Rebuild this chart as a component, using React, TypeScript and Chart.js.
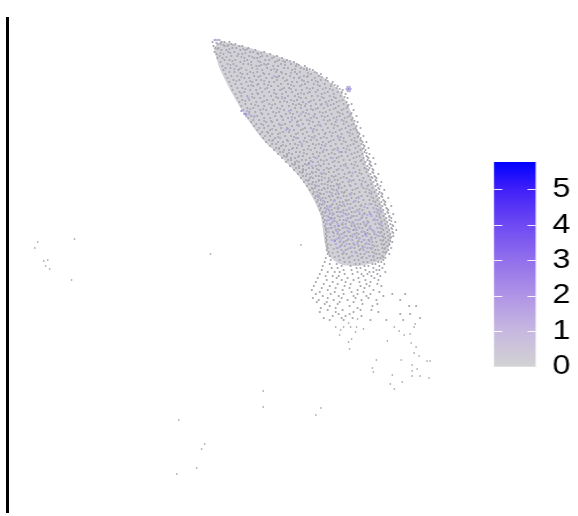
import React, { useEffect, useRef } from "react";
import { Chart, registerables } from "chart.js";

Chart.register(...registerables);

// Embedding coordinates. Each row: [umap2, umap1, umap1, ...]
const baselineRows: number[][] = [
  [46.0, 20.6, 21.1],
  [45.8, 20.4, 21.3, 21.6, 22.1],
  [45.6, 20.9, 21.2, 22.3, 22.7],
  [45.4, 20.5, 21.6, 21.9, 23.1, 23.4],
  [45.2, 20.7, 21.0, 22.4, 22.8, 24.0],
  [45.0, 21.3, 21.8, 23.2, 23.7, 24.7],
  [44.8, 20.6, 22.0, 22.6, 24.2, 24.5, 25.6],
  [44.6, 20.8, 21.5, 23.0, 23.4, 25.0, 26.2],
  [44.4, 21.1, 22.3, 22.9, 24.1, 25.4, 25.9, 26.9],
  [44.2, 20.9, 21.4, 23.6, 24.6, 24.9, 26.4, 27.4],
  [44.0, 21.6, 22.1, 22.7, 23.9, 25.7, 26.1, 27.1, 27.9],
  [43.8, 21.2, 23.2, 24.3, 25.2, 26.7, 27.7, 28.6],
  [43.6, 21.9, 22.5, 23.5, 24.0, 25.6, 26.0, 27.3, 28.3, 28.9],
  [43.4, 21.4, 22.8, 24.8, 25.1, 26.5, 27.0, 28.8, 29.7],
  [43.2, 21.7, 22.2, 23.3, 24.4, 25.9, 27.6, 28.0, 29.3, 29.9],
  [43.0, 21.5, 23.0, 23.8, 25.4, 26.3, 26.9, 28.4, 29.9, 30.5],
  [42.8, 22.1, 22.6, 24.2, 24.9, 26.8, 27.3, 28.7, 29.2, 30.7],
  [42.6, 21.7, 23.4, 23.9, 25.6, 26.1, 27.8, 28.9, 30.3, 31.3],
  [42.4, 22.3, 22.9, 24.6, 25.2, 27.1, 28.2, 29.6, 30.0, 31.1],
  [42.2, 21.9, 23.6, 24.1, 25.8, 26.4, 27.5, 28.6, 29.1, 30.7, 31.9],
  [42.0, 22.5, 23.1, 24.8, 25.3, 26.9, 27.9, 29.4, 30.4, 31.3, 31.8],
  [41.8, 22.1, 23.8, 24.4, 26.1, 26.6, 28.4, 28.9, 30.0, 31.0, 32.5],
  [41.6, 22.7, 23.3, 25.0, 25.6, 27.3, 28.0, 29.7, 30.6, 31.7, 32.4],
  [41.4, 22.3, 24.0, 24.5, 26.3, 27.0, 28.6, 29.2, 31.2, 32.3, 33.0],
  [41.2, 22.9, 23.4, 25.2, 25.9, 27.6, 28.1, 29.9, 30.5, 31.8, 32.9],
  [41.0, 22.4, 24.2, 24.8, 26.6, 27.2, 28.8, 29.4, 31.0, 32.5, 33.5],
  [40.8, 23.1, 23.6, 25.4, 26.1, 27.8, 28.4, 30.2, 30.8, 32.0, 33.0, 33.4],
  [40.6, 22.7, 24.4, 25.0, 26.8, 27.4, 29.0, 29.6, 31.4, 32.6, 33.8],
  [40.4, 23.3, 23.9, 25.6, 26.3, 28.0, 28.7, 30.4, 31.0, 32.2, 33.3],
  [40.2, 22.9, 24.6, 25.2, 27.0, 27.7, 29.3, 29.8, 31.6, 32.8, 34.0],
  [40.0, 23.4, 24.1, 25.9, 26.5, 28.3, 28.9, 30.6, 31.2, 32.4, 33.5],
  [39.8, 23.1, 24.8, 25.4, 27.2, 27.9, 29.5, 30.1, 31.8, 32.9, 33.9],
  [39.6, 23.7, 24.3, 26.1, 26.7, 28.5, 29.1, 30.8, 31.4, 32.6, 33.6, 34.4],
  [39.4, 23.3, 25.0, 25.6, 27.4, 28.1, 29.7, 30.3, 32.0, 33.1, 34.0],
  [39.2, 23.9, 24.5, 26.3, 26.9, 28.7, 29.3, 31.0, 31.6, 32.8, 33.9],
  [39.0, 23.5, 25.2, 25.8, 27.6, 28.3, 29.9, 30.5, 32.2, 33.4, 34.6],
  [38.8, 24.1, 24.7, 26.5, 27.1, 28.9, 29.5, 31.2, 31.8, 33.0, 34.0],
  [38.6, 23.8, 25.4, 26.0, 27.8, 28.5, 30.1, 30.7, 32.4, 33.5, 34.3],
  [38.4, 24.3, 24.9, 26.7, 27.3, 29.1, 29.7, 31.4, 32.0, 33.2, 34.2, 34.9],
  [38.2, 24.0, 25.6, 26.2, 28.0, 28.7, 30.3, 30.9, 32.6, 33.7, 34.5],
  [38.0, 24.5, 25.1, 26.9, 27.5, 29.3, 29.9, 31.6, 32.2, 33.4, 34.4],
  [37.8, 24.3, 25.8, 26.4, 28.2, 28.9, 30.5, 31.1, 32.8, 33.9, 35.0],
  [37.6, 24.8, 25.3, 27.1, 27.7, 29.5, 30.1, 31.8, 32.4, 33.6, 34.6],
  [37.4, 24.6, 26.0, 26.6, 28.4, 29.1, 30.7, 31.3, 33.0, 34.1, 34.9],
  [37.2, 25.1, 25.6, 27.3, 27.9, 29.7, 30.3, 32.0, 32.6, 33.8, 34.8, 35.3],
  [37.0, 24.9, 26.2, 26.8, 28.6, 29.3, 30.9, 31.5, 33.2, 34.3, 34.9],
  [36.8, 25.4, 25.9, 27.5, 28.1, 29.9, 30.5, 32.2, 32.8, 34.0, 35.0],
  [36.6, 25.2, 26.4, 27.0, 28.8, 29.5, 31.1, 31.7, 33.4, 34.5, 35.2],
  [36.4, 25.7, 26.2, 27.7, 28.3, 30.1, 30.7, 32.4, 33.0, 34.2, 35.1, 35.6],
  [36.2, 25.5, 26.7, 27.2, 29.0, 29.7, 31.3, 31.9, 33.6, 34.7, 35.3],
  [36.0, 26.1, 26.5, 27.9, 28.5, 30.3, 30.9, 32.6, 33.2, 34.4, 35.3],
  [35.8, 25.8, 27.0, 27.5, 29.2, 29.9, 31.5, 32.1, 33.8, 34.9, 35.5, 35.9],
  [35.6, 26.4, 26.8, 28.2, 28.7, 30.5, 31.1, 32.8, 33.4, 34.6, 35.4],
  [35.4, 26.2, 27.3, 27.8, 29.4, 30.1, 31.7, 32.3, 34.0, 35.1, 35.7],
  [35.2, 26.8, 27.1, 28.5, 28.9, 30.7, 31.3, 33.0, 33.6, 34.8, 35.6, 36.1],
  [35.0, 26.6, 27.6, 28.1, 29.6, 30.3, 31.9, 32.5, 34.2, 35.3, 35.8],
  [34.8, 27.2, 27.5, 28.8, 29.2, 30.9, 31.5, 33.2, 33.8, 35.0, 35.7],
  [34.6, 27.0, 27.9, 28.4, 29.9, 30.5, 32.1, 32.7, 34.4, 35.5, 36.2],
  [34.4, 27.6, 27.9, 29.1, 29.5, 31.1, 31.7, 33.4, 34.0, 35.2, 35.9],
  [34.2, 27.4, 28.3, 28.7, 30.2, 30.8, 32.3, 32.9, 34.6, 35.6, 36.1, 36.6],
  [34.0, 28.0, 28.3, 29.4, 29.8, 31.3, 31.9, 33.6, 34.2, 35.4, 36.0],
  [33.8, 27.8, 28.7, 29.1, 30.5, 31.0, 32.5, 33.1, 34.8, 35.8, 36.3],
  [33.6, 28.4, 28.7, 29.7, 30.1, 31.6, 32.1, 33.8, 34.4, 35.6, 36.2, 36.8],
  [33.4, 28.2, 29.1, 29.5, 30.8, 31.3, 32.7, 33.3, 35.0, 36.0, 36.4],
  [33.2, 28.8, 29.1, 30.1, 30.5, 31.9, 32.3, 34.0, 34.6, 35.7, 36.2],
  [33.0, 28.6, 29.5, 29.8, 31.1, 31.6, 32.9, 33.5, 35.2, 36.1, 36.6],
  [32.8, 29.2, 29.5, 30.4, 30.8, 32.1, 32.6, 34.2, 34.8, 35.9, 36.5],
  [32.6, 29.0, 29.9, 30.2, 31.4, 31.8, 33.1, 33.7, 35.4, 36.3, 37.1],
  [32.4, 29.5, 29.8, 30.8, 31.1, 32.4, 32.8, 34.4, 35.0, 36.1, 36.7],
  [32.2, 29.3, 30.2, 30.5, 31.7, 32.1, 33.3, 33.9, 35.6, 36.5, 36.9],
  [32.0, 29.8, 30.1, 31.1, 31.4, 32.7, 33.0, 34.6, 35.2, 36.3, 36.8],
  [31.8, 29.6, 30.5, 30.8, 32.0, 32.4, 33.5, 34.1, 35.8, 36.6, 37.4],
  [31.6, 30.1, 30.4, 31.4, 31.7, 32.9, 33.2, 34.8, 35.4, 36.4, 37.0],
  [31.4, 29.9, 30.8, 31.1, 32.3, 32.6, 33.7, 34.3, 36.0, 36.8, 37.3],
  [31.2, 30.4, 30.7, 31.6, 32.0, 33.1, 33.4, 35.0, 35.6, 36.5, 37.1],
  [31.0, 30.2, 31.1, 31.4, 32.6, 32.9, 33.9, 34.5, 36.2, 36.9, 37.7],
  [30.8, 30.6, 30.9, 31.9, 32.2, 33.4, 33.7, 35.2, 35.8, 36.7, 37.2],
  [30.6, 30.5, 31.3, 31.6, 32.8, 33.1, 34.2, 34.7, 36.4, 37.1, 37.5],
  [30.4, 30.8, 31.1, 32.1, 32.5, 33.6, 33.9, 35.4, 36.0, 36.9, 37.4],
  [30.2, 30.7, 31.5, 31.8, 33.0, 33.3, 34.4, 34.9, 36.6, 37.2, 38.1],
  [30.0, 31.0, 31.3, 32.3, 32.7, 33.8, 34.1, 35.6, 36.2, 37.0, 37.6],
  [29.8, 30.9, 31.7, 32.0, 33.2, 33.5, 34.6, 35.1, 36.8, 37.4, 37.8],
  [29.6, 31.2, 31.5, 32.5, 32.9, 34.0, 34.3, 35.8, 36.4, 37.2, 37.7],
  [29.4, 31.1, 31.9, 32.2, 33.4, 33.7, 34.8, 35.3, 37.0, 37.5, 38.4],
  [29.2, 31.3, 31.7, 32.7, 33.1, 34.2, 34.5, 36.0, 36.6, 37.3, 37.9],
  [29.0, 31.2, 32.1, 32.4, 33.6, 33.9, 35.0, 35.5, 37.1, 37.6, 38.1],
  [28.8, 31.5, 31.8, 32.9, 33.3, 34.4, 34.7, 36.2, 36.7, 37.4, 38.0],
  [28.6, 31.4, 32.2, 32.6, 33.8, 34.1, 35.2, 35.7, 37.2, 37.8, 38.6],
  [28.4, 31.6, 32.0, 33.0, 33.5, 34.6, 34.9, 36.4, 36.9, 37.6, 38.2],
  [28.2, 31.5, 32.4, 32.7, 34.0, 34.3, 35.4, 35.9, 37.3, 37.9, 38.4],
  [28.0, 31.7, 32.1, 33.2, 33.6, 34.8, 35.1, 36.6, 37.0, 37.7, 38.2],
  [27.8, 31.6, 32.5, 32.9, 34.2, 34.5, 35.6, 36.1, 37.4, 38.0, 38.8],
  [27.6, 31.8, 32.2, 33.4, 33.8, 35.0, 35.3, 36.8, 37.2, 37.8, 38.3],
  [27.4, 31.7, 32.7, 33.1, 34.4, 34.7, 35.8, 36.3, 37.5, 38.1, 38.6],
  [27.2, 31.8, 32.4, 33.5, 34.0, 35.2, 35.5, 37.0, 37.3, 37.9, 38.4],
  [27.0, 31.8, 32.8, 33.2, 34.6, 34.9, 36.0, 36.5, 37.6, 38.2, 38.9],
  [26.8, 31.9, 32.5, 33.7, 34.2, 35.4, 35.7, 37.1, 37.4, 38.0, 38.5],
  [26.6, 31.8, 33.0, 33.4, 34.7, 35.1, 36.2, 36.7, 37.7, 38.3],
  [26.4, 31.9, 32.6, 33.9, 34.3, 35.5, 35.9, 37.2, 37.5, 38.1, 38.6],
  [26.2, 31.8, 33.1, 33.5, 34.9, 35.2, 36.4, 36.8, 37.8, 38.3],
  [26.0, 31.9, 32.7, 34.0, 34.5, 35.7, 36.1, 37.3, 37.6, 38.1],
  [25.8, 31.8, 33.2, 33.6, 35.0, 35.4, 36.5, 36.9, 37.9, 38.5],
  [25.6, 32.0, 32.8, 34.2, 34.6, 35.8, 36.2, 37.4, 37.7, 38.2],
  [25.4, 31.9, 33.3, 33.7, 35.1, 35.5, 36.7, 37.0, 38.0],
  [25.2, 32.0, 32.9, 34.3, 34.7, 36.0, 36.3, 37.5, 37.8, 38.4],
  [25.0, 31.9, 33.4, 33.8, 35.2, 35.6, 36.8, 37.1, 38.1],
  [24.8, 32.1, 33.0, 34.4, 34.8, 36.1, 36.5, 37.6, 37.9],
  [24.6, 32.0, 33.5, 33.9, 35.3, 35.7, 36.9, 37.2, 38.2],
  [24.4, 32.2, 33.1, 34.5, 35.0, 36.2, 36.6, 37.5],
  [24.2, 31.8, 33.6, 34.1, 35.4, 35.9, 37.0, 37.3, 37.8],
  [24.0, 32.3, 33.2, 34.7, 35.1, 36.4, 36.7, 37.6],
  [23.8, 31.7, 33.7, 34.2, 35.6, 36.0, 37.1, 37.4],
  [23.6, 32.2, 32.9, 34.8, 35.2, 36.5, 36.8, 37.7],
  [23.4, 31.5, 33.4, 34.3, 35.7, 36.1, 37.2],
  [23.2, 32.4, 33.0, 34.9, 35.3, 36.6, 37.5],
  [23.0, 31.4, 33.6, 34.4, 35.8, 36.9, 37.2],
  [22.8, 32.0, 32.7, 33.2, 35.0, 36.2, 36.6, 37.8],
  [22.6, 31.2, 33.7, 34.5, 35.4, 36.0, 37.0],
  [22.4, 31.8, 32.5, 33.1, 35.6, 36.4, 37.3],
  [22.2, 31.0, 32.9, 34.0, 35.1, 36.7],
  [22.0, 31.9, 33.4, 34.6, 35.8, 37.1],
  [21.8, 30.8, 32.5, 33.8, 35.2, 36.3],
  [21.6, 31.6, 33.0, 34.3, 35.9, 37.0],
  [21.4, 30.6, 32.2, 33.7, 35.3, 36.2, 37.4],
  [21.2, 31.4, 32.8, 34.2, 35.7],
  [21.0, 30.4, 32.0, 33.5, 35.0, 36.6],
  [20.8, 31.2, 32.7, 34.4, 35.6, 37.2],
  [20.6, 30.8, 32.3, 33.6, 35.0, 36.3, 38.5, 39.8],
  [20.4, 31.5, 33.1, 34.6, 35.9, 37.6],
  [20.2, 30.5, 32.0, 33.4, 34.8, 36.1],
  [20.0, 31.1, 32.6, 34.0, 35.4, 36.9, 39.3],
  [19.8, 30.9, 31.9, 33.2, 34.6],
  [19.6, 31.7, 33.0, 35.5, 37.0],
  [19.4, 32.2, 34.2, 36.5, 40.2, 40.9],
  [19.2, 31.3, 32.8, 35.0],
  [19.0, 32.0, 33.5, 35.3, 36.4],
  [18.8, 31.2, 32.8, 34.6, 37.1],
  [18.6, 33.1, 34.2, 39.3, 40.3],
  [18.4, 32.5, 33.8, 35.4],
  [18.2, 31.6, 33.4, 34.5, 41.3],
  [18.0, 32.2, 33.6, 36.3, 37.9, 39.6],
];

// A second reading of the same cloud, on the rows in between.
const baselineRowsB: number[][] = [
  [45.5, 21.5, 22.0, 22.5],
  [45.1, 20.9, 22.1, 23.5, 23.9],
  [44.7, 21.2, 22.2, 23.7, 24.9, 25.3],
  [44.3, 21.8, 23.3, 24.4, 25.2, 26.6],
  [43.9, 22.4, 23.6, 25.0, 26.9, 27.5, 28.2],
  [43.5, 22.2, 24.3, 25.3, 25.8, 27.7, 29.1],
  [43.1, 22.6, 23.1, 24.9, 26.6, 28.7, 29.6, 30.2],
  [42.7, 23.2, 24.5, 25.5, 27.4, 28.3, 30.0, 30.9],
  [42.3, 23.3, 25.0, 26.8, 27.0, 29.2, 29.9, 31.4],
  [41.9, 22.8, 24.2, 25.6, 27.7, 29.6, 30.8, 32.0],
  [41.5, 24.3, 24.9, 26.0, 28.3, 29.4, 31.0, 32.7],
  [41.1, 23.7, 25.7, 27.4, 28.3, 30.2, 31.5, 32.2, 33.2],
  [40.7, 23.3, 24.9, 26.6, 29.3, 30.0, 31.7, 33.4],
  [40.3, 24.4, 26.8, 27.4, 29.1, 31.4, 32.6, 33.7],
  [39.9, 23.7, 25.6, 27.6, 28.6, 30.3, 32.1, 33.2],
  [39.5, 24.7, 26.4, 28.8, 29.3, 31.3, 32.3, 34.1],
  [39.1, 24.2, 25.5, 27.2, 30.3, 30.8, 32.6, 33.6],
  [38.7, 25.3, 26.8, 28.2, 29.8, 31.5, 33.2, 34.4],
  [38.3, 24.6, 27.4, 28.4, 30.6, 31.7, 32.9, 34.0],
  [37.9, 25.6, 26.3, 29.0, 30.2, 32.0, 33.6, 34.7],
  [37.5, 25.5, 27.4, 28.9, 31.0, 32.7, 34.4],
  [37.1, 26.4, 28.0, 29.5, 30.6, 33.4, 34.6],
  [36.7, 26.0, 27.2, 29.0, 31.8, 32.5, 34.2, 35.1],
  [36.3, 27.0, 28.6, 30.4, 31.6, 33.3, 35.0],
  [35.9, 26.4, 28.0, 29.6, 32.3, 33.6, 34.7, 35.4],
  [35.5, 27.5, 29.0, 30.8, 31.4, 34.3, 35.6],
  [35.1, 27.1, 28.4, 30.0, 32.7, 33.9, 35.5],
  [34.7, 28.1, 29.6, 31.2, 32.4, 34.7, 35.9],
  [34.3, 27.8, 29.0, 30.6, 33.1, 34.9, 36.0],
  [33.9, 28.9, 30.3, 31.6, 32.7, 35.3, 36.2],
  [33.5, 28.6, 29.9, 31.1, 33.6, 34.7, 36.3],
  [33.1, 29.5, 30.9, 32.1, 33.1, 35.9, 36.5],
  [32.7, 29.4, 30.5, 31.6, 34.1, 35.2, 36.6],
  [32.3, 30.3, 31.4, 32.6, 33.6, 36.4, 36.8],
  [31.9, 30.0, 31.1, 32.1, 34.4, 35.5, 36.9],
  [31.5, 30.7, 32.0, 33.0, 34.2, 36.1, 37.0],
  [31.1, 30.5, 31.7, 32.4, 34.8, 35.9, 37.2],
  [30.7, 31.2, 32.4, 33.6, 34.4, 36.2, 37.4],
  [30.3, 31.0, 32.2, 33.0, 35.1, 36.4, 37.5],
  [29.9, 31.6, 32.7, 33.9, 34.8, 36.6, 37.7],
  [29.5, 31.4, 32.4, 33.2, 35.4, 36.8, 37.8],
  [29.1, 31.9, 33.0, 34.2, 35.2, 36.9, 38.0],
  [28.7, 31.7, 32.5, 33.6, 35.7, 37.0, 38.1],
  [28.3, 32.1, 33.2, 34.4, 35.5, 37.2, 38.2],
  [27.9, 31.9, 32.7, 33.9, 36.0, 37.4, 38.4],
  [27.5, 32.3, 33.5, 34.7, 35.9, 37.3, 38.5],
  [27.1, 32.0, 33.0, 34.2, 36.3, 37.5, 38.5],
  [26.7, 32.6, 33.6, 34.9, 36.0, 37.3, 38.6],
  [26.3, 32.2, 33.2, 34.5, 36.4, 37.6, 38.4],
  [25.9, 32.7, 33.8, 35.1, 36.2, 37.5, 38.3],
  [25.5, 32.3, 33.4, 34.7, 36.5, 37.6, 38.2],
  [25.1, 32.6, 34.0, 35.3, 36.4, 37.7],
  [24.7, 32.5, 33.6, 34.9, 36.7, 37.8],
  [24.3, 32.7, 34.2, 35.5, 36.6, 37.6],
];

const isolatedX = [2.8, 6.5, 2.5, 3.8, 3.4, 3.6, 4.0, 6.2, 20.2, 29.3, 25.5, 25.5, 31.3, 30.8, 17.0, 19.6, 19.3, 18.8, 16.8, 40.8, 40.7, 38.7, 39.2, 39.7, 40.3, 40.4, 40.9, 40.7, 41.2, 38.0, 42.0, 42.3, 36.9, 39.4, 40.5, 36.5, 36.6, 41.0, 40.5, 38.5, 40.5, 41.3, 42.2, 39.5, 38.3, 38.7, 34.4, 34.1, 34.2, 33.2, 33.3, 33.6, 32.8, 34.3, 34.9, 35.6, 34.8, 34.1, 35.0];
const isolatedY = [25.8, 26.1, 25.2, 24.0, 23.9, 23.4, 23.1, 22.0, 24.6, 25.5, 10.9, 9.3, 9.2, 8.5, 8.0, 5.6, 5.1, 3.2, 2.6, 17.6, 17.3, 17.3, 16.9, 16.5, 16.6, 15.7, 15.3, 14.7, 14.4, 15.9, 13.9, 13.9, 14.0, 14.0, 13.5, 13.2, 12.8, 13.1, 12.9, 12.5, 12.4, 12.4, 12.2, 11.8, 11.6, 11.1, 16.1, 15.8, 15.1, 16.5, 17.0, 17.3, 17.3, 17.3, 17.3, 17.1, 16.8, 17.7, 18.1];

const lowExprRows: number[][] = [
  [46.0, 20.7, 20.9],
  [45.7, 20.8],
  [42.4, 26.6],
  [41.3, 34.0, 34.2],
  [41.1, 33.9, 34.1, 34.3],
  [40.9, 34.0, 34.2],
  [40.2, 24.0, 27.4],
  [39.6, 29.8, 31.9],
  [38.9, 23.9, 28.1],
  [38.6, 23.6, 24.1, 29.3],
  [38.4, 23.8, 24.6, 30.6],
  [38.0, 28.4, 30.0, 32.9],
  [37.5, 27.2, 29.0, 31.2],
  [37.0, 27.8, 28.2, 30.5],
  [36.2, 28.8, 30.6, 33.1],
  [35.6, 29.4, 31.8],
  [35.0, 31.6, 33.0],
  [34.2, 30.9, 32.5],
  [33.4, 30.4, 33.8],
  [32.7, 31.3, 34.5],
  [32.0, 32.2, 34.2],
  [31.4, 30.9, 33.1, 35.4],
  [30.8, 31.9, 33.0, 36.4],
  [30.5, 31.0, 32.4, 34.3],
  [30.2, 31.2, 33.3, 35.1],
  [29.9, 31.5, 32.6, 34.7],
  [29.6, 31.6, 33.6, 36.2],
  [29.3, 32.3, 33.0, 35.7],
  [29.2, 32.0, 34.2, 36.6],
  [28.9, 31.8, 33.5, 34.9, 37.3],
  [28.8, 32.2, 33.1, 35.2, 37.0],
  [28.5, 32.5, 33.9, 35.5, 36.0],
  [28.4, 31.9, 33.4, 34.4, 36.4, 37.2],
  [28.1, 32.3, 34.0, 35.3, 36.7],
  [28.0, 32.0, 32.6, 33.8, 35.1, 36.8],
  [27.7, 32.4, 33.5, 34.6, 36.0, 37.1],
  [27.6, 31.9, 33.0, 34.4, 35.7, 37.4],
  [27.3, 32.7, 33.8, 35.1, 36.3],
  [27.2, 32.2, 33.6, 34.8, 36.2, 37.0],
  [26.9, 32.9, 34.0, 35.5, 36.6],
  [26.8, 32.1, 33.0, 34.1, 35.4, 36.7],
  [26.5, 33.2, 34.5, 35.8, 36.9],
  [26.4, 32.6, 33.7, 34.9, 35.9, 37.1],
  [26.1, 32.9, 34.1, 35.2, 36.4],
  [26.0, 32.4, 33.3, 34.4, 35.6, 36.3],
  [25.7, 33.5, 34.6, 35.9],
  [25.6, 32.8, 33.9, 35.0, 36.1],
  [25.3, 33.2, 34.4, 35.7],
  [25.2, 33.0, 34.2, 35.5, 36.5],
  [24.8, 33.6, 34.8, 35.9],
  [24.4, 34.4, 36.2],
];

const highExprX = [23.3, 23.7, 34.1, 32.3, 33.1, 34.6, 35.8, 36.3, 33.4, 32.7, 30.1];
const highExprY = [38.9, 38.6, 41.1, 28.2, 27.4, 27.0, 26.6, 28.6, 34.8, 25.9, 33.7];

const envelopeX = [21.2, 24.2, 28.0, 31.2, 33.2, 34.1, 34.7, 35.3, 35.9, 36.7, 37.3, 38.0, 38.4, 38.0, 37.5, 35.0, 33.2, 32.0, 31.6, 31.3, 30.6, 29.4, 27.6, 25.5, 23.7, 22.3, 21.1, 20.5];
const envelopeY = [45.9, 45.2, 44.0, 42.5, 40.9, 39.4, 37.8, 35.8, 33.4, 31.4, 29.8, 27.8, 26.2, 24.8, 24.0, 23.4, 23.6, 24.6, 26.4, 28.4, 30.0, 32.0, 34.0, 36.0, 38.4, 40.8, 43.2, 45.2];

const legendTicks = [0, 1, 2, 3, 4, 5];
const legendMax = 5.77;
const legendValues = [0, 1, 2, 3, 4, 5, 5.77];
const legendColors = ["#d3d3d3", "#c7b8e0", "#b094e6", "#9270ec", "#6e49f3", "#4020f8", "#0000ff"];

const flatten = (rows: number[][]) =>
  rows.flatMap(([y, ...xs]) => xs.map((x) => ({ x, y })));
const zip = (xs: number[], ys: number[]) => xs.map((x, i) => ({ x, y: ys[i] }));

const legendTickMarks = {
  id: "legendTickMarks",
  afterDatasetsDraw(chart: any) {
    const { ctx, chartArea, scales } = chart;
    const len = (chartArea.right - chartArea.left) / 5;
    ctx.save();
    ctx.strokeStyle = "rgba(255,255,255,0.9)";
    ctx.lineWidth = 1;
    legendTicks.forEach((t) => {
      const y = Math.round(scales.y.getPixelForValue(t)) + 0.5;
      ctx.beginPath();
      ctx.moveTo(chartArea.left, y);
      ctx.lineTo(chartArea.left + len, y);
      ctx.moveTo(chartArea.right - len, y);
      ctx.lineTo(chartArea.right, y);
      ctx.stroke();
    });
    ctx.restore();
  },
};

export default function App() {
  const mainRef = useRef<HTMLCanvasElement>(null);
  const legendRef = useRef<HTMLCanvasElement>(null);

  useEffect(() => {
    const main = new Chart(mainRef.current!, {
      type: "scatter",
      data: {
        datasets: [
          {
            label: "high",
            data: zip(highExprX, highExprY),
            backgroundColor: "#a08cdc",
            pointRadius: 1.1,
            borderWidth: 0,
            order: 0,
          },
          {
            label: "low",
            data: flatten(lowExprRows),
            backgroundColor: "#b9aedc",
            pointRadius: 1.2,
            borderWidth: 0,
            order: 1,
          },
          {
            label: "baseline",
            data: flatten(baselineRows),
            backgroundColor: "#a6a5ac",
            pointRadius: 1.1,
            borderWidth: 0,
            order: 2,
          },
          {
            label: "baseline, in-between rows",
            data: flatten(baselineRowsB),
            backgroundColor: "#adacb4",
            pointRadius: 1.1,
            borderWidth: 0,
            order: 3,
          },
          {
            label: "isolated",
            data: zip(isolatedX, isolatedY),
            backgroundColor: "#b4b4b8",
            pointRadius: 0.9,
            borderWidth: 0,
            order: 4,
          },
          {
            label: "envelope",
            data: zip(envelopeX, envelopeY),
            showLine: true,
            fill: "shape",
            tension: 0.25,
            backgroundColor: "rgba(180,178,190,0.6)",
            borderWidth: 0,
            pointRadius: 0,
            order: 5,
          },
        ],
      },
      options: {
        responsive: false,
        animation: false,
        layout: { padding: { left: 7.5, right: 0, top: 18, bottom: 4 } },
        plugins: { legend: { display: false }, tooltip: { enabled: false } },
        scales: {
          x: { type: "linear", display: false, min: -0.25, max: 56.8 },
          y: {
            type: "linear",
            min: -1.2,
            max: 48.2,
            grid: { display: false },
            ticks: { display: false },
            border: { display: true, color: "#000000", width: 3 },
            afterFit: (s: any) => {
              s.width = 0;
            },
          },
        },
      },
    } as any);

    const legend = new Chart(legendRef.current!, {
      type: "bar",
      data: {
        labels: ["expression"],
        datasets: [
          {
            data: [[0, legendMax]],
            barPercentage: 1,
            categoryPercentage: 1,
            borderWidth: 0,
            backgroundColor: (c: any) => {
              const { chart } = c;
              if (!chart.chartArea) return "#d3d3d3";
              const y = chart.scales.y;
              const g = chart.ctx.createLinearGradient(0, y.getPixelForValue(0), 0, y.getPixelForValue(legendMax));
              legendValues.forEach((v, i) => g.addColorStop(v / legendMax, legendColors[i]));
              return g;
            },
          },
        ],
      },
      options: {
        responsive: false,
        animation: false,
        layout: { padding: { left: 12.17, right: 0, top: 22, bottom: 13.3 } },
        plugins: { legend: { display: false }, tooltip: { enabled: false } },
        scales: {
          x: { display: false },
          y: {
            position: "right",
            min: 0,
            max: legendMax,
            grid: { display: false, drawTicks: false },
            border: { display: false },
            afterBuildTicks: (s: any) => {
              s.ticks = legendTicks.map((value) => ({ value }));
            },
            ticks: {
              padding: 14.5,
              color: "#000000",
              font: { family: "'Liberation Sans', Arial, sans-serif", size: 28 },
              autoSkip: false,
            },
            afterFit: (s: any) => {
              s.width = 36.5;
              s.paddingTop = 0;
              s.paddingBottom = 0;
            },
          },
        },
      },
      plugins: [legendTickMarks],
    } as any);

    return () => {
      main.destroy();
      legend.destroy();
    };
  }, []);

  return (
    <div style={{ position: "absolute", left: 0, top: 0, width: 578, height: 516, background: "#ffffff", overflow: "hidden" }}>
      <canvas ref={mainRef} width={578} height={516} style={{ position: "absolute", left: 0, top: 0 }} />
      <div style={{ position: "absolute", left: 480, top: 140, width: 85, height: 240, transform: "scaleX(1.15)", transformOrigin: "left top" }}>
        <canvas ref={legendRef} width={85} height={240} />
      </div>
    </div>
  );
}
